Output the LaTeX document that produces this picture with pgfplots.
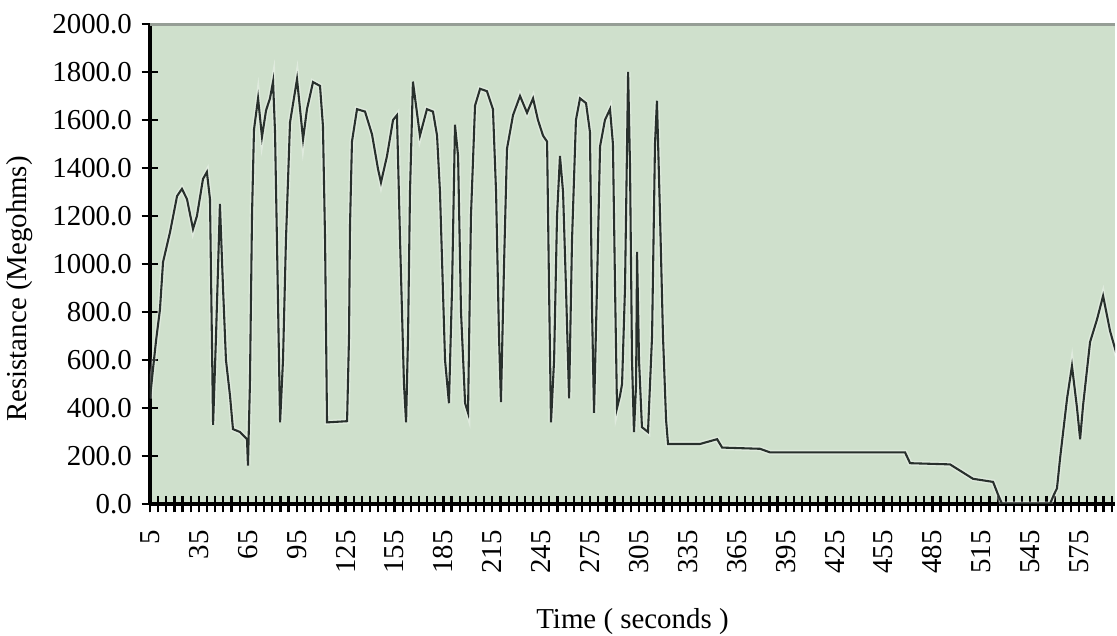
\documentclass[border=0pt]{standalone}
\usepackage{fontspec}
\setmainfont{Liberation Serif}
\usepackage{pgfplots}
\usepackage{pgfplotstable}
\pgfplotsset{compat=1.18}
\usetikzlibrary{calc}
\definecolor{plotbg}{RGB}{207,224,204}
\definecolor{framegray}{RGB}{150,158,150}
\definecolor{trace}{RGB}{40,48,44}

% time (s) vs resistance (Megohms)
\pgfplotstableread{
t R
5.0 440
6.8 560
8.7 680
11.1 810
13.0 1008
17.3 1133
21.6 1283
24.6 1313
27.7 1270
31.4 1146
33.8 1200
37.5 1354
39.9 1383
41.8 1270
43.7 330
45.5 700
47.9 1250
49.8 900
51.6 600
54.1 450
55.9 312
60.2 300
64.5 270
65.1 160
66.3 500
67.6 1210
68.8 1560
71.3 1690
73.7 1530
76.2 1640
78.6 1690
80.5 1760
81.7 1550
82.9 1090
84.8 340
86.6 600
88.4 1100
90.9 1590
95.2 1770
98.9 1520
101.3 1645
105.0 1758
109.3 1742
111.1 1575
112.4 1100
113.6 340
125.9 345
127.1 700
127.7 1160
128.9 1510
132.0 1645
136.9 1635
141.2 1540
144.9 1395
146.7 1340
150.4 1450
154.1 1600
156.5 1620
158.4 1100
160.8 500
162.1 340
163.3 700
164.5 1300
166.3 1760
170.6 1535
174.9 1645
178.6 1635
181.1 1535
182.9 1300
186.0 600
188.4 420
190.3 900
192.1 1580
194.0 1450
195.8 800
198.3 420
200.1 380
201.9 1200
204.4 1660
207.5 1730
211.7 1720
215.4 1645
217.3 1300
219.1 700
220.3 425
222.2 1000
224.0 1480
227.7 1620
232.0 1700
236.3 1630
240.0 1690
243.0 1600
246.1 1535
248.6 1510
249.8 900
251.0 340
252.9 600
254.7 1200
256.5 1450
258.4 1300
260.2 900
262.1 440
263.9 1100
266.3 1600
268.8 1690
272.5 1670
274.9 1550
276.2 800
277.4 380
279.2 900
281.1 1490
284.1 1600
287.2 1645
289.0 1500
290.3 900
291.5 400
293.3 450
294.6 500
296.4 900
298.3 1800
299.5 1400
300.7 600
301.9 300
303.2 500
303.8 1050
305.0 600
306.8 320
310.5 300
313.0 700
314.8 1500
316.0 1680
317.9 1200
319.7 700
321.6 350
322.8 250
330.2 250
342.4 250
352.9 270
356.0 235
379.2 230
385.4 215
468.2 215
471.3 170
495.8 165
509.9 105
522.2 92
525.2 40
527.7 0
557.1 0
559.6 40
561.4 65
563.3 190
567.6 440
570.6 575
573.7 400
575.6 270
577.4 410
581.7 675
586.0 770
589.7 867
594.0 720
598.3 617
}\resist

\begin{document}
\begin{tikzpicture}
\begin{axis}[
    name=ax,
    scale only axis,
    width=347.4pt, height=172.8pt,
    xmin=5, xmax=597,
    ymin=0, ymax=2000,
    axis background/.style={fill=plotbg},
    axis x line*=bottom,
    axis y line*=left,
    axis line style={black, line width=1.1pt},
    tick align=center,
    major tick length=6pt,
    minor tick length=6pt,
    tick style={black, line width=0.8pt},
    xtick={5,35,...,575},
    minor xtick={5,10,...,595},
    ytick={0,200,...,2000},
    /pgf/number format/assume math mode=true,
    yticklabel style={/pgf/number format/.cd, fixed, fixed zerofill, precision=1, 1000 sep={}},
    xticklabel style={rotate=90, anchor=east},
    xticklabel shift=3pt,
    ticklabel style={font=\fontsize{10.4}{12}\selectfont},
    xlabel={Time ( seconds )},
    ylabel={Resistance (Megohms)},
    every axis x label/.style={at={(rel axis cs:0.5,0)}, yshift=-42.5pt, anchor=center, font=\fontsize{10.4}{12}\selectfont},
    every axis y label/.style={at={(rel axis cs:0,0.448)}, xshift=-46.8pt, anchor=center, rotate=90, font=\fontsize{10.4}{12}\selectfont},
]
\addplot[white, opacity=0.35, line width=1.8pt] table {\resist};
\addplot[trace, line width=0.75pt] table {\resist};
\draw[framegray, line width=1.2pt] (rel axis cs:0,1) -- (rel axis cs:1,1);
\end{axis}
\pgfresetboundingbox
\path[use as bounding box] ($(ax.south west)+(-54pt,-47.5pt)$) rectangle ($(ax.north east)+(0.72pt,8.64pt)$);
\end{tikzpicture}
\end{document}
